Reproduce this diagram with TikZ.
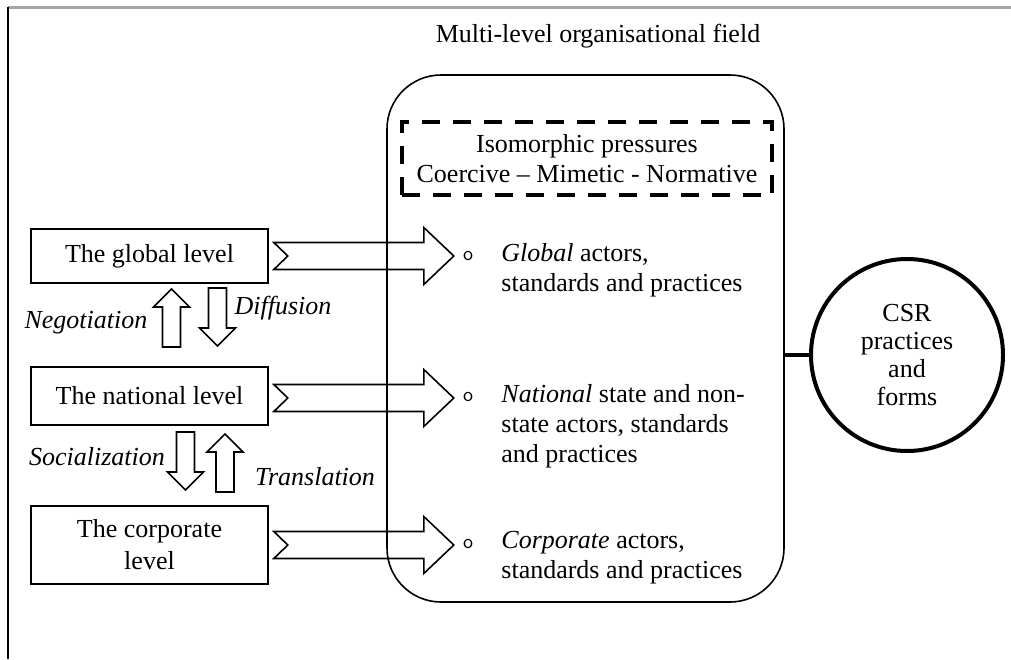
\documentclass[tikz,border=0pt]{standalone}
\usepackage{fontspec}
\setmainfont{Liberation Serif}

\tikzset{
  every node/.style={font=\fontsize{13}{15}\selectfont},
  levelbox/.style={draw, line width=0.8pt, minimum width=118.5pt, align=center, inner sep=0pt},
  itemtext/.style={anchor=north west, align=left, inner sep=0pt},
  procname/.style={font=\fontsize{13}{15}\selectfont\itshape, inner sep=0pt},
  bulletmark/.style={font=\fontsize{10}{10}\selectfont\sffamily, inner sep=0pt},
  notcharrow/.pic={
    \draw[line width=0.8pt] (0,-13.5) -- ++(150,0) -- ++(0,-15) -- ++(30,28.5)
      -- ++(-30,28.5) -- ++(0,-15) -- ++(-150,0) -- ++(14,-13.5) -- cycle;
  },
  fatarrow/.pic={
    \draw[line width=0.8pt, fill=white] (0,-9) -- (40,-9) -- (40,-18) -- (58,0)
      -- (40,18) -- (40,9) -- (0,9) -- cycle;
  },
}

\begin{document}
\begin{tikzpicture}[x=0.5pt, y=-0.5pt]
  \useasboundingbox (0,0) rectangle (1011,659);
  % frame
  \draw[gray!70, line width=1.5pt] (8,7) -- (1011,7);
  \draw[line width=1pt] (8,7) -- (8,659);

  % the field
  \node (title) at (598,36) {Multi-level organisational field};
  \node[draw, line width=0.8pt, rounded corners=27pt, minimum width=198.5pt,
        minimum height=263.5pt] (field) at (585.5,338.5) {};
  \node[draw, line width=1.6pt, dash pattern=on 9pt off 6.5pt, minimum width=185pt,
        minimum height=36.5pt, align=center, inner sep=0pt] (pressures) at (587,158.5)
        {Isomorphic pressures\\Coercive -- Mimetic - Normative};

  % levels
  \node[levelbox, minimum height=27pt] (global) at (149.5,256) {The global level};
  \node[levelbox, minimum height=29pt] (national) at (149.5,396) {The national level};
  \node[levelbox, minimum height=39pt, font=\fontsize{13}{16}\selectfont] (corporate)
        at (149.5,545) {The corporate\\level};

  \pic at ([xshift=2.5pt]global.east) {notcharrow};
  \pic at ([xshift=2.5pt,yshift=-1pt]national.east) {notcharrow};
  \pic at ([xshift=2.5pt]corporate.east) {notcharrow};

  \pic[rotate=90] at (171.5,347) {fatarrow};
  \pic[rotate=-90] at (217.5,288) {fatarrow};
  \pic[rotate=-90] at (185.5,432) {fatarrow};
  \pic[rotate=90] at (225,492) {fatarrow};

  \node[procname] (negot) at (86,323) {Negotiation};
  \node[procname] (diffu) at (283,308) {Diffusion};
  \node[procname] (social) at (97,457) {Socialization};
  \node[procname] (transl) at (315,477) {Translation};

  % items
  \node[bulletmark] (gdot) at (468,256) {o};
  \node[bulletmark] (ndot) at (468,397) {o};
  \node[bulletmark] (cdot) at (468,544) {o};
  \node[itemtext] (gitem) at (501,243) {\textit{Global} actors,\\standards and practices};
  \node[itemtext] (nitem) at (501,384) {\textit{National} state and non-\\state actors, standards\\and practices};
  \node[itemtext] (citem) at (501,531) {\textit{Corporate} actors,\\standards and practices};

  % outcome
  \node[draw, circle, line width=2pt, minimum size=96pt, align=center, inner sep=0pt,
        font=\fontsize{13}{14}\selectfont] (csr) at (907,355) {CSR\\practices\\and\\forms};
  \draw[line width=2pt] (field.east |- csr.west) -- (csr.west);
\end{tikzpicture}
\end{document}
